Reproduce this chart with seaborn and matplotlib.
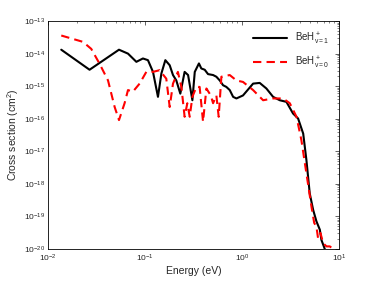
import numpy as np
import pandas as pd
import matplotlib
matplotlib.use("Agg")
import matplotlib.pyplot as plt
import matplotlib.ticker as mticker
import seaborn as sns

# BeH+ v=1 (solid black)
energy_v1 = [0.01374, 0.0269, 0.0541, 0.0670, 0.0817, 0.0955, 0.1076, 0.1213,
             0.1365, 0.148, 0.1626, 0.1803, 0.195, 0.211, 0.232, 0.257, 0.279,
             0.309, 0.327, 0.361, 0.382, 0.414, 0.448, 0.505, 0.546, 0.592,
             0.640, 0.692, 0.750, 0.813, 0.879, 1.028, 1.306, 1.528, 1.79,
             2.10, 2.46, 2.88, 3.37, 3.80, 4.29, 4.63, 5.01, 5.43, 5.87, 6.37,
             6.61, 7.16]
sigma_v1 = [1.32e-14, 3.2e-15, 1.32e-14, 1.0e-14, 5.6e-15, 7.1e-15, 6.3e-15,
            2.75e-15, 4.7e-16, 2.45e-15, 6.3e-15, 4.4e-15, 2.2e-15, 1.5e-15,
            5.9e-16, 2.75e-15, 2.2e-15, 3.7e-16, 2.75e-15, 5.0e-15, 3.5e-15,
            3.2e-15, 2.35e-15, 2.2e-15, 1.95e-15, 1.5e-15, 1.07e-15, 9.5e-16,
            7.6e-16, 4.7e-16, 4.2e-16, 5.2e-16, 1.2e-15, 1.26e-15, 8.5e-16,
            4.7e-16, 3.7e-16, 3.3e-16, 1.45e-16, 1.02e-16, 3.5e-17, 5.4e-18,
            5.1e-19, 1.6e-19, 7.1e-20, 3.9e-20, 1.9e-20, 1.0e-20]

# BeH+ v=0 (dashed red)
energy_v0 = [0.01374, 0.0230, 0.0280, 0.0341, 0.0417, 0.0488, 0.0541, 0.0618,
             0.0670, 0.0753, 0.0883, 0.1035, 0.1213, 0.1419, 0.1663, 0.1803,
             0.195, 0.219, 0.238, 0.257, 0.274, 0.290, 0.309, 0.340, 0.367,
             0.398, 0.431, 0.478, 0.505, 0.546, 0.577, 0.615, 0.750, 0.879,
             1.028, 1.306, 1.656, 2.10, 2.66, 3.12, 3.66, 4.11, 4.63, 5.22,
             5.57, 5.87, 6.11, 6.46, 6.89, 7.46, 8.07, 8.73]
sigma_v0 = [3.6e-14, 2.3e-14, 1.4e-14, 4.9e-15, 1.5e-15, 2.3e-16, 9.1e-17,
            3.0e-16, 7.6e-16, 6.8e-16, 1.2e-15, 2.75e-15, 2.75e-15, 3.1e-15,
            1.7e-15, 2.3e-16, 1.2e-15, 2.75e-15, 9.5e-16, 1.15e-16, 3.0e-16,
            1.15e-16, 4.7e-16, 9.5e-16, 9.5e-16, 8.1e-17, 8.5e-16, 5.2e-16,
            3.0e-16, 5.2e-16, 1.15e-16, 1.95e-15, 2.2e-15, 1.5e-15, 1.35e-15,
            7.6e-16, 3.7e-16, 4.2e-16, 4.2e-16, 3.0e-16, 1.15e-16, 2.2e-17,
            2.1e-18, 2.0e-19, 6.3e-20, 4.9e-20, 2.1e-20, 3.1e-20, 1.5e-20,
            1.2e-20, 1.2e-20, 1.0e-20]

x_ticks = [1e-2, 1e-1, 1e0, 1e1]
y_ticks = [1e-20, 1e-19, 1e-18, 1e-17, 1e-16, 1e-15, 1e-14, 1e-13]

sns.set_style("white")
plt.rcParams['font.family'] = ['Liberation Sans', 'DejaVu Sans']
plt.rcParams['mathtext.fontset'] = 'custom'
plt.rcParams['mathtext.rm'] = 'Liberation Sans'
plt.rcParams['mathtext.it'] = 'Liberation Sans'

df_v1 = pd.DataFrame({"Energy": energy_v1, "Sigma": sigma_v1})
df_v0 = pd.DataFrame({"Energy": energy_v0, "Sigma": sigma_v0})

fig = plt.figure(figsize=(3.74, 2.81), dpi=100)
ax = fig.add_axes([0.128, 0.114, 0.778, 0.811])

sns.lineplot(data=df_v1, x="Energy", y="Sigma", sort=False, ax=ax,
             color="black", linewidth=1.5, label=r"BeH$^+_{v=1}$")
sns.lineplot(data=df_v0, x="Energy", y="Sigma", sort=False, ax=ax,
             color="red", linewidth=1.5, linestyle=(0, (4, 2.5)),
             label=r"BeH$^+_{v=0}$")

ax.set_xscale("log")
ax.set_yscale("log")
ax.set_xticks(x_ticks)
ax.set_yticks(y_ticks)
ax.set_xlim(1e-2, 1e1)
ax.set_ylim(1e-20, 1e-13)
ax.yaxis.set_minor_locator(mticker.LogLocator(base=10, subs=np.arange(2, 10), numticks=10))
ax.xaxis.set_minor_formatter(mticker.NullFormatter())
ax.yaxis.set_minor_formatter(mticker.NullFormatter())

ax.set_xlabel("Energy (eV)", fontsize=7.5, labelpad=1)
ax.set_ylabel("Cross section (cm$^2$)", fontsize=7.5, labelpad=2)
ax.tick_params(which="both", direction="in", top=True, right=True,
               labelsize=6)
ax.tick_params(axis="x", pad=3)
ax.tick_params(axis="y", pad=2)
ax.tick_params(which="major", length=3, width=0.5)
ax.tick_params(which="minor", length=1.5, width=0.4)
for s in ax.spines.values():
    s.set_linewidth(0.6)
    s.set_color("black")

leg = ax.legend(loc="upper right", frameon=False, fontsize=7,
                handlelength=3.5, borderaxespad=0.6, labelspacing=0.8)

fig.savefig("out.png", dpi=100)
